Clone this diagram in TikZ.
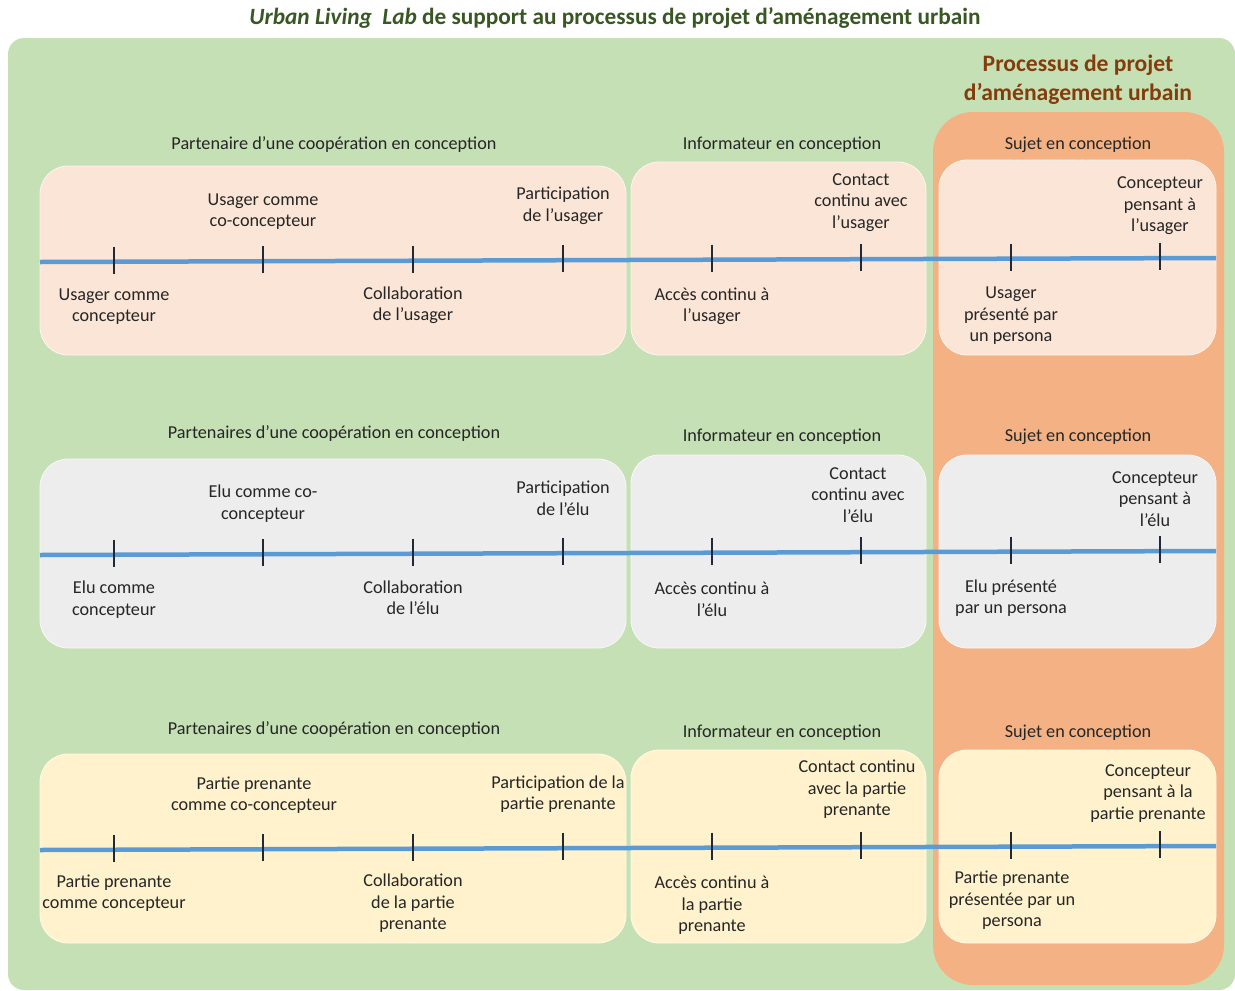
\documentclass[tikz,border=0pt]{standalone}
\usepackage{fontspec}
\setmainfont{Carlito}
\definecolor{bggreen}{HTML}{C5E0B4}
\definecolor{procorange}{HTML}{F4B183}
\definecolor{peach}{HTML}{FBE5D6}
\definecolor{lightgray}{HTML}{EDEDED}
\definecolor{cream}{HTML}{FFF2CC}
\definecolor{axisblue}{HTML}{5B9BD5}
\definecolor{titlegreen}{HTML}{385723}
\definecolor{brown}{HTML}{843C0C}
\definecolor{txt}{HTML}{262626}
\definecolor{tickc}{HTML}{1F2A36}
\begin{document}
\begin{tikzpicture}[x=1pt,y=-1pt,
  lbl/.style={align=center,inner sep=0pt,text=txt,font=\fontsize{18.2}{21.5}\selectfont},
  hdr/.style={inner sep=0pt,text=txt,font=\fontsize{18.2}{21.5}\selectfont},
  stagebox/.style={rounded corners=28pt,draw=white!60!#1,line width=0.8pt,fill=#1},
  axis/.style={draw=axisblue,line width=4.5pt},
  tickmark/.style={draw=tickc,line width=1.6pt}]
\useasboundingbox (0,0) rectangle (1235,991);
% background areas
\fill[bggreen,rounded corners=16pt] (8,38) rectangle (1235,990);
\fill[procorange,rounded corners=40pt] (933,112) rectangle (1224,985);
% titles
\node[inner sep=0pt,text=titlegreen,font=\fontsize{23.3}{26}\selectfont\bfseries] (title) at (615,18)
  {\textit{Urban Living\ \ Lab} de support au processus de projet d’aménagement urbain};
\node[align=center,inner sep=0pt,text=brown,font=\fontsize{23.6}{29}\selectfont\bfseries] (proc) at (1078,80)
  {Processus de projet\\d’aménagement urbain};

% ===== Row 1 =====
\draw[stagebox=peach] (40,166) rectangle (626,355);
\draw[stagebox=peach] (631,162) rectangle (926,355);
\draw[stagebox=peach] (939,160) rectangle (1216,355);
\node[hdr] (h1a) at (334,145) {Partenaire d’une coopération en conception};
\node[hdr] (h1b) at (782,145) {Informateur en conception};
\node[hdr] (h1c) at (1078,145) {Sujet en conception};
\coordinate (r1s) at (40,262);
\coordinate (r1e) at (1216,258);
\draw[axis] (r1s) -- (r1e);
\foreach \i/\x in {1/114,2/263,3/413,4/563,5/712,6/861,7/1011,8/1160}{
  \coordinate (r1t\i) at (\x,{262-4*(\x-40)/1176});
  \draw[tickmark] ([yshift=15pt]r1t\i) -- ([yshift=-12pt]r1t\i);
}
\node[lbl] (l11) at (114,306.5) {Usager comme\\concepteur};
\node[lbl] (l12) at (263,211.5) {Usager comme\\co-concepteur};
\node[lbl] (l13) at (413,305) {Collaboration\\de l’usager};
\node[lbl] (l14) at (563,206) {Participation\\de l’usager};
\node[lbl] (l15) at (712,306.5) {Accès continu à\\l’usager};
\node[lbl] (l16) at (861,202.5) {Contact\\continu avec\\l’usager};
\node[lbl] (l17) at (1011,316) {Usager\\présenté par\\un persona};
\node[lbl] (l18) at (1160,206) {Concepteur\\pensant à\\l’usager};

% ===== Row 2 =====
\draw[stagebox=lightgray] (40,459) rectangle (626,648);
\draw[stagebox=lightgray] (631,455) rectangle (926,648);
\draw[stagebox=lightgray] (939,455) rectangle (1216,648);
\node[hdr] (h2a) at (334,434) {Partenaires d’une coopération en conception};
\node[hdr] (h2b) at (782,437) {Informateur en conception};
\node[hdr] (h2c) at (1078,437) {Sujet en conception};
\coordinate (r2s) at (40,555);
\coordinate (r2e) at (1216,551);
\draw[axis] (r2s) -- (r2e);
\foreach \i/\x in {1/114,2/263,3/413,4/563,5/712,6/861,7/1011,8/1160}{
  \coordinate (r2t\i) at (\x,{555-4*(\x-40)/1176});
  \draw[tickmark] ([yshift=15pt]r2t\i) -- ([yshift=-12pt]r2t\i);
}
\node[lbl] (l21) at (114,599.5) {Elu comme\\concepteur};
\node[lbl] (l22) at (263,503.5) {Elu comme co-\\concepteur};
\node[lbl] (l23) at (413,597.5) {Collaboration\\de l’élu};
\node[lbl] (l24) at (563,498.5) {Participation\\de l’élu};
\node[lbl] (l25) at (712,599.5) {Accès continu à\\l’élu};
\node[lbl] (l26) at (858,495) {Contact\\continu avec\\l’élu};
\node[lbl] (l27) at (1011,598) {Elu présenté\\par un persona};
\node[lbl] (l28) at (1155,499) {Concepteur\\pensant à\\l’élu};

% ===== Row 3 =====
\draw[stagebox=cream] (40,754) rectangle (626,943);
\draw[stagebox=cream] (631,750) rectangle (926,943);
\draw[stagebox=cream] (939,750) rectangle (1216,943);
\node[hdr] (h3a) at (334,730) {Partenaires d’une coopération en conception};
\node[hdr] (h3b) at (782,733) {Informateur en conception};
\node[hdr] (h3c) at (1078,733) {Sujet en conception};
\coordinate (r3s) at (40,850);
\coordinate (r3e) at (1216,846);
\draw[axis] (r3s) -- (r3e);
\foreach \i/\x in {1/114,2/263,3/413,4/563,5/712,6/861,7/1011,8/1160}{
  \coordinate (r3t\i) at (\x,{850-4*(\x-40)/1176});
  \draw[tickmark] ([yshift=15pt]r3t\i) -- ([yshift=-12pt]r3t\i);
}
\node[lbl] (l31) at (114,893) {Partie prenante\\comme concepteur};
\node[lbl] (l32) at (254,795) {Partie prenante\\comme co-concepteur};
\node[lbl] (l33) at (413,903.5) {Collaboration\\de la partie\\prenante};
\node[lbl] (l34) at (558,794) {Participation de la\\partie prenante};
\node[lbl] (l35) at (712,905.5) {Accès continu à\\la partie\\prenante};
\node[lbl] (l36) at (857,789.5) {Contact continu\\avec la partie\\prenante};
\node[lbl] (l37) at (1012,900.5) {Partie prenante\\présentée par un\\persona};
\node[lbl] (l38) at (1148,793.5) {Concepteur\\pensant à la\\partie prenante};
\end{tikzpicture}
\end{document}
